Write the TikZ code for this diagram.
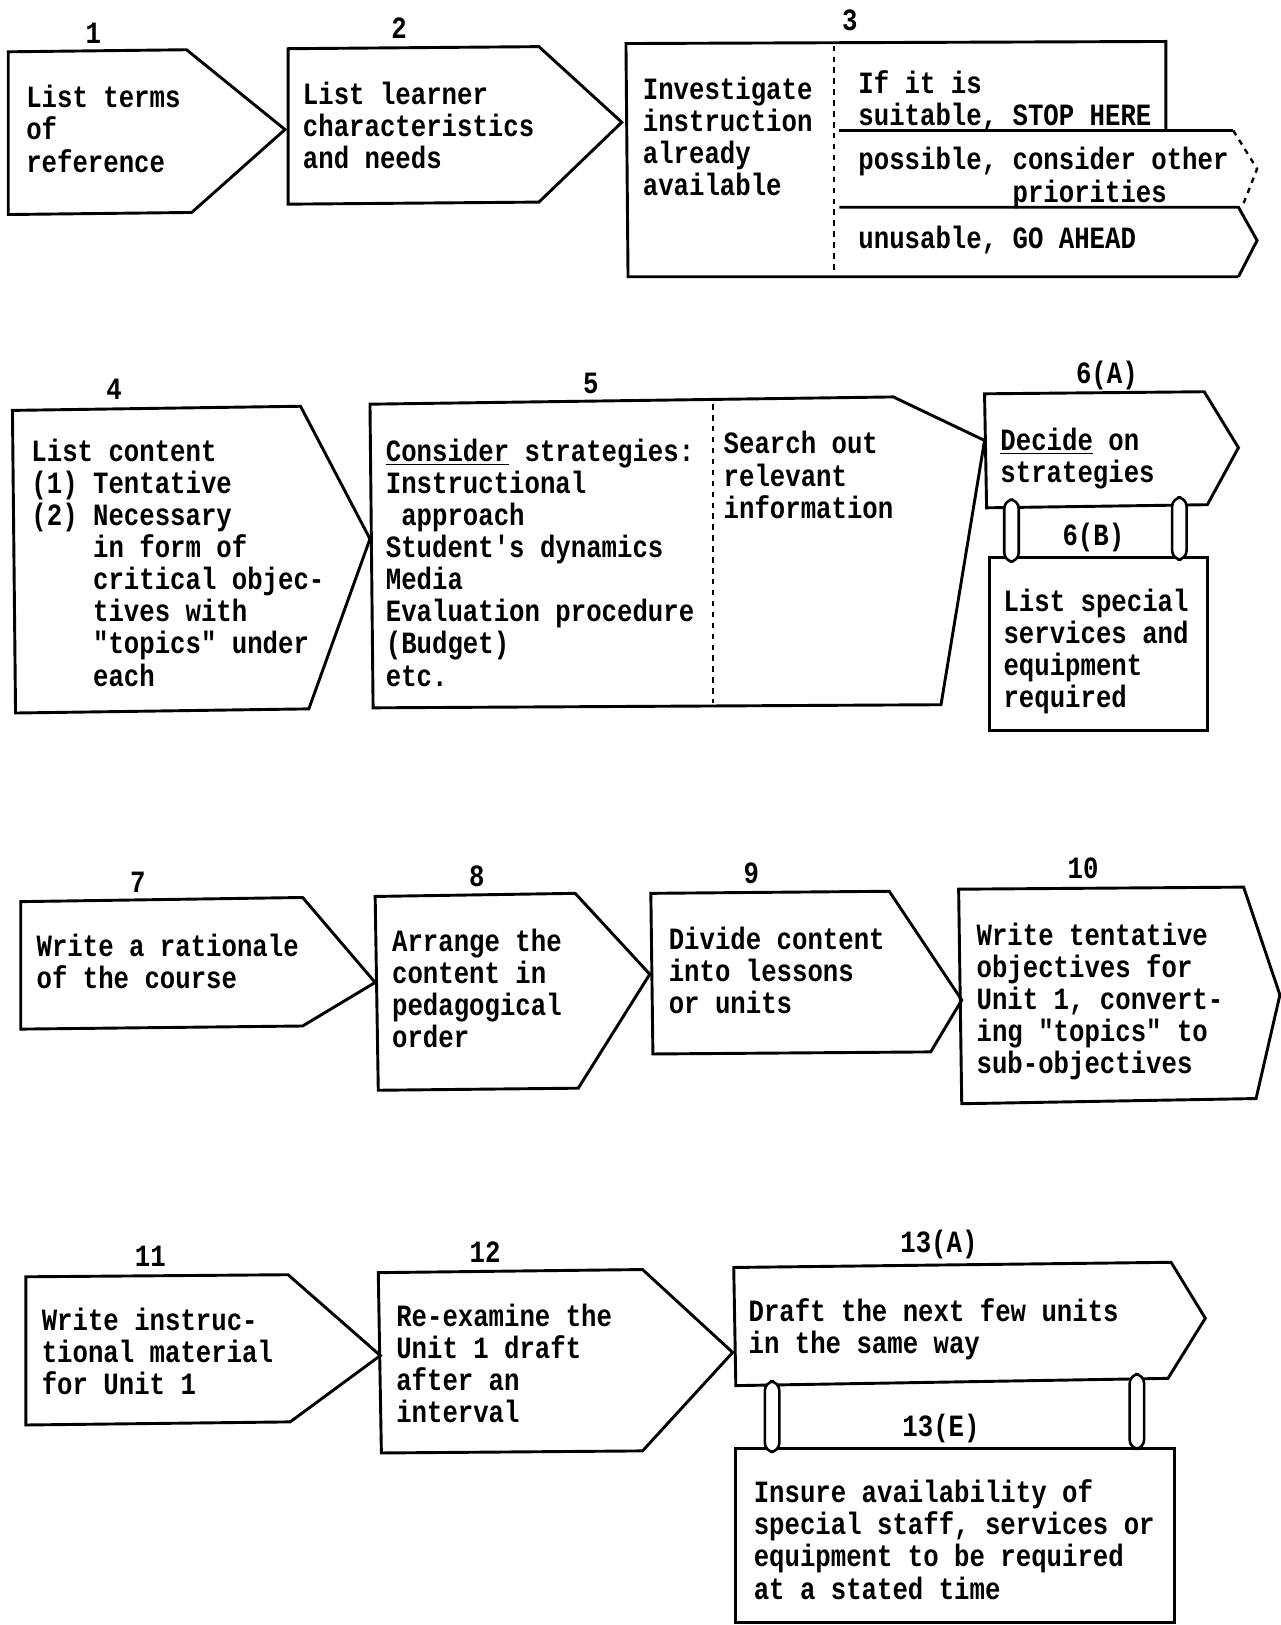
\documentclass[tikz,border=0pt]{standalone}
\usepackage{fontspec}
\setmonofont[FakeStretch=0.83]{Liberation Mono}
\newcommand{\stepindent}{\hphantom{(2)~}}
\begin{document}
\begin{tikzpicture}[
        x=0.02cm, y=-0.02cm,
        boxline/.style={line width=1.6pt, line join=miter},
        divline/.style={line width=1.3pt, dash pattern=on 3pt off 3pt},
        post/.style={line width=1.4pt, rounded corners=5pt, fill=white},
        steptext/.style={anchor=base west, align=left, inner sep=0pt, yshift=-0.06cm,
            font=\ttfamily\bfseries\fontsize{17}{17.64}\selectfont},
        numlabel/.style={inner sep=0pt,
            font=\ttfamily\bfseries\fontsize{17}{17.64}\selectfont},
        ]
        \useasboundingbox (0,0) rectangle (1236,1568);
        \fill[white] (0,0) rectangle (1236,1568);
        % text nodes sit on the baseline of their last line

        % Row 1
        % Step 1
        \node[numlabel] (n1) at (90,32) {1};
        \draw[boxline] (8,50) -- (180,48) -- (275,125) -- (185,205) -- (8,207) -- cycle;
        \node[steptext] (t1) at (25,163) {List terms\\of\\reference};
        % Step 2
        \node[numlabel] (n2) at (385,27) {2};
        \draw[boxline] (278,47) -- (520,45) -- (600,118) -- (520,195) -- (278,197) -- cycle;
        \node[steptext] (t2) at (292,160) {List learner\\characteristics\\and needs};
        % Step 3
        \node[numlabel] (n3) at (820,20) {3};
        \draw[boxline] (1125,125) -- (1125,40) -- (604,42) -- (606,267) -- (1195,267);
        \draw[divline] (805,44) -- (805,262);
        \node[steptext] (t3) at (620,186) {Investigate\\instruction\\already\\available};
        \node[steptext] (t3a) at (828,118) {If it is\\suitable, STOP HERE};
        \draw[boxline] (810,126) -- (1190,126);
        \draw[divline] (1190,126) -- (1213,163) -- (1200,196);
        \node[steptext] (t3b) at (828,192) {possible, consider other\\\hphantom{possible,~}priorities};
        \draw[boxline] (810,200) -- (1195,200) -- (1213,232) -- (1195,267);
        \node[steptext] (t3c) at (828,237) {unusable, GO AHEAD};

        % Row 2
        % Step 4
        \node[numlabel] (n4) at (110,376) {4};
        \draw[boxline] (12,396) -- (290,392) -- (357,520) -- (298,684) -- (15,688) -- cycle;
        \node[steptext] (t4) at (30,659) {List content\\(1) Tentative\\(2) Necessary\\
            \stepindent in form of\\\stepindent critical objec-\\\stepindent tives with\\
            \stepindent "topics" under\\\stepindent each};
        % Step 5
        \node[numlabel] (n5) at (570,370) {5};
        \draw[boxline] (950,425) -- (862,383) -- (357,390) -- (360,683) -- (908,680) -- cycle;
        \draw[divline] (688,390) -- (688,678);
        \node[steptext] (t5) at (372,659) {\underline{Consider} strategies:\\Instructional\\
            \hphantom{I}approach\\Student's dynamics\\Media\\Evaluation procedure\\(Budget)\\etc.};
        \node[steptext] (t5a) at (698,497) {Search out\\relevant\\information};
        % Step 6
        \node[numlabel] (n6a) at (1068,362) {6(A)};
        \draw[boxline] (950,380) -- (1162,378) -- (1195,432) -- (1165,487) -- (952,490) -- cycle;
        \node[steptext] (t6a) at (965,463) {\underline{Decide} on\\strategies};
        \draw[boxline] (955,538) rectangle (1165,705);
        \node[numlabel] (n6b) at (1055,519) {6(B)};
        \node[steptext] (t6b) at (968,680) {List special\\services and\\equipment\\required};
        \coordinate (p6la) at (969,482);
        \coordinate (p6lb) at (983,542);
        \coordinate (p6ra) at (1131,480);
        \coordinate (p6rb) at (1145,540);
        \draw[post] (p6la) rectangle (p6lb);
        \draw[post] (p6ra) rectangle (p6rb);

        % Row 3
        % Step 7
        \node[numlabel] (n7) at (133,851) {7};
        \draw[boxline] (20,870) -- (292,866) -- (362,948) -- (292,990) -- (20,993) -- cycle;
        \node[steptext] (t7) at (35,951) {Write a rationale\\of the course};
        % Step 8
        \node[numlabel] (n8) at (460,846) {8};
        \draw[boxline] (362,865) -- (555,862) -- (627,940) -- (558,1050) -- (365,1052) -- cycle;
        \node[steptext] (t8) at (378,1008) {Arrange the\\content in\\pedagogical\\order};
        % Step 9
        \node[numlabel] (n9) at (725,843) {9};
        \draw[boxline] (628,862) -- (858,860) -- (928,965) -- (898,1015) -- (630,1017) -- cycle;
        \node[steptext] (t9) at (645,975) {Divide content\\into lessons\\or units};
        % Step 10
        \node[numlabel] (n10) at (1045,838) {10};
        \draw[boxline] (925,858) -- (1200,856) -- (1235,960) -- (1212,1060) -- (928,1065) -- cycle;
        \node[steptext] (t10) at (942,1033) {Write tentative\\objectives for\\Unit 1, convert-\\
            ing "topics" to\\sub-objectives};

        % Row 4
        % Step 11
        \node[numlabel] (n11) at (145,1212) {11};
        \draw[boxline] (25,1232) -- (278,1230) -- (367,1308) -- (280,1372) -- (25,1375) -- cycle;
        \node[steptext] (t11) at (40,1343) {Write instruc-\\tional material\\for Unit 1};
        % Step 12
        \node[numlabel] (n12) at (468,1208) {12};
        \draw[boxline] (365,1228) -- (620,1225) -- (707,1305) -- (620,1400) -- (368,1402) -- cycle;
        \node[steptext] (t12) at (382,1370) {Re-examine the\\Unit 1 draft\\after an\\interval};
        % Step 13
        \node[numlabel] (n13a) at (906,1201) {13(A)};
        \draw[boxline] (708,1223) -- (1130,1218) -- (1163,1272) -- (1127,1330) -- (710,1337) -- cycle;
        \node[steptext] (t13a) at (722,1303) {Draft the next few units\\in the same way};
        \draw[boxline] (710,1398) rectangle (1133,1566);
        \node[numlabel] (n13b) at (908,1378) {13(E)};
        \node[steptext] (t13b) at (727,1540) {Insure availability of\\special staff, services or\\
            equipment to be required\\at a stated time};
        \coordinate (p13la) at (738,1333);
        \coordinate (p13lb) at (752,1401);
        \coordinate (p13ra) at (1090,1326);
        \coordinate (p13rb) at (1104,1398);
        \draw[post] (p13la) rectangle (p13lb);
        \draw[post] (p13ra) rectangle (p13rb);

\end{tikzpicture}
\end{document}
